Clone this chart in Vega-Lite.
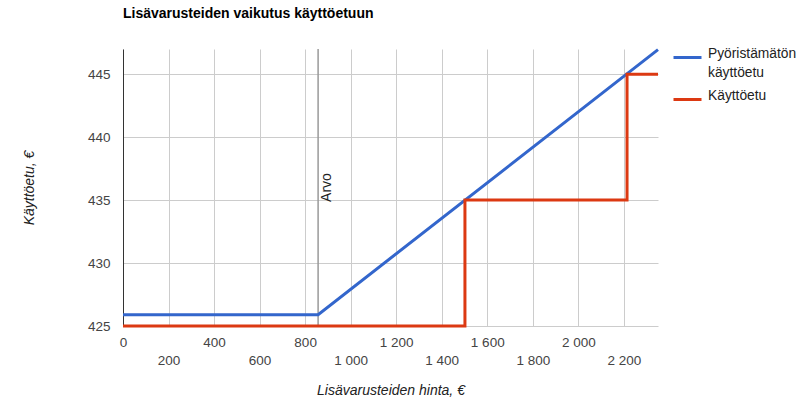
{
  "$schema": "https://vega.github.io/schema/vega-lite/v6.json",
  "width": 535,
  "height": 277,
  "autosize": "none",
  "padding": {"left": 123, "top": 49, "right": 139, "bottom": 76},
  "background": "white",
  "title": {
    "text": "Lisävarusteiden vaikutus käyttöetuun",
    "anchor": "start",
    "frame": "group",
    "font": "Liberation Sans",
    "fontSize": 14,
    "fontWeight": "bold",
    "color": "#000000",
    "offset": 21
  },
  "datasets": {
    "pyoristamaton": [
      {"hinta": 0, "kayttoetu": 425.9, "sarja": "Pyöristämätön käyttöetu"},
      {"hinta": 857, "kayttoetu": 425.9, "sarja": "Pyöristämätön käyttöetu"},
      {"hinta": 2350, "kayttoetu": 446.95, "sarja": "Pyöristämätön käyttöetu"}
    ],
    "kayttoetu": [
      {"hinta": 0, "kayttoetu": 425, "sarja": "Käyttöetu"},
      {"hinta": 1502, "kayttoetu": 435, "sarja": "Käyttöetu"},
      {"hinta": 2214, "kayttoetu": 445, "sarja": "Käyttöetu"},
      {"hinta": 2350, "kayttoetu": 445, "sarja": "Käyttöetu"}
    ],
    "arvo": [{"hinta": 857, "kayttoetu": 436, "nimi": "Arvo"}]
  },
  "encoding": {
    "x": {
      "field": "hinta",
      "type": "quantitative",
      "scale": {"domain": [0, 2350], "nice": false, "zero": false},
      "axis": {
        "title": "Lisävarusteiden hinta, €",
        "values": [0, 200, 400, 600, 800, 1000, 1200, 1400, 1600, 1800, 2000, 2200],
        "labelExpr": "replace(format(datum.value, ',d'), ',', ' ')",
        "labelOverlap": false,
        "labelFlush": false,
        "labelPadding": {"condition": {"test": "datum.value % 400 == 200", "value": 27}, "value": 9},
        "ticks": false,
        "domain": false,
        "grid": true,
        "gridColor": "#cccccc",
        "labelFont": "Liberation Sans",
        "labelFontSize": 13.5,
        "labelColor": "#444444",
        "titleFont": "Liberation Sans",
        "titleFontSize": 14,
        "titleFontStyle": "italic",
        "titleFontWeight": "normal",
        "titleColor": "#222222",
        "titlePadding": 17
      }
    },
    "y": {
      "field": "kayttoetu",
      "type": "quantitative",
      "scale": {"domain": [425, 447], "nice": false, "zero": false},
      "axis": {
        "title": "Käyttöetu, €",
        "values": [425, 430, 435, 440, 445],
        "ticks": false,
        "domain": true,
        "domainColor": "#333333",
        "grid": true,
        "gridColor": "#cccccc",
        "labelPadding": 13,
        "labelFont": "Liberation Sans",
        "labelFontSize": 13.5,
        "labelColor": "#444444",
        "titleFont": "Liberation Sans",
        "titleFontSize": 14,
        "titleFontStyle": "italic",
        "titleFontWeight": "normal",
        "titleColor": "#222222",
        "titlePadding": 51
      }
    }
  },
  "layer": [
    {
      "data": {"name": "arvo"},
      "mark": {"type": "rule", "color": "#999999", "strokeWidth": 1.5},
      "encoding": {"x": {"field": "hinta", "type": "quantitative"}, "y": null}
    },
    {
      "data": {"name": "arvo"},
      "mark": {"type": "text", "angle": 270, "align": "center", "baseline": "top", "dy": 2, "font": "Liberation Sans", "fontSize": 14, "color": "#222222"},
      "encoding": {"text": {"field": "nimi"}}
    },
    {
      "data": {"name": "pyoristamaton"},
      "mark": {"type": "line", "strokeWidth": 3, "interpolate": "linear"},
      "encoding": {
        "color": {
          "field": "sarja",
          "type": "nominal",
          "scale": {"domain": ["Pyöristämätön käyttöetu", "Käyttöetu"], "range": ["#3366cc", "#dc3912"]},
          "legend": {
            "title": null,
            "orient": "none",
            "legendX": 549,
            "legendY": -7,
            "padding": 0,
            "symbolType": "stroke",
            "symbolSize": 784,
            "symbolStrokeWidth": 3,
            "labelExpr": "datum.label == 'Pyöristämätön käyttöetu' ? ['Pyöristämätön', 'käyttöetu'] : [datum.label, '']",
            "labelBaseline": "alphabetic",
            "labelFont": "Liberation Sans",
            "labelFontSize": 13.8,
            "labelColor": "#222222",
            "labelLimit": 200,
            "labelOffset": 5,
            "rowPadding": 4
          }
        }
      }
    },
    {
      "data": {"name": "kayttoetu"},
      "mark": {"type": "line", "strokeWidth": 3, "interpolate": "step-after"},
      "encoding": {"color": {"field": "sarja", "type": "nominal"}}
    }
  ],
  "config": {"view": {"stroke": null}, "style": {"guide-label": {"lineHeight": 19}}}
}
